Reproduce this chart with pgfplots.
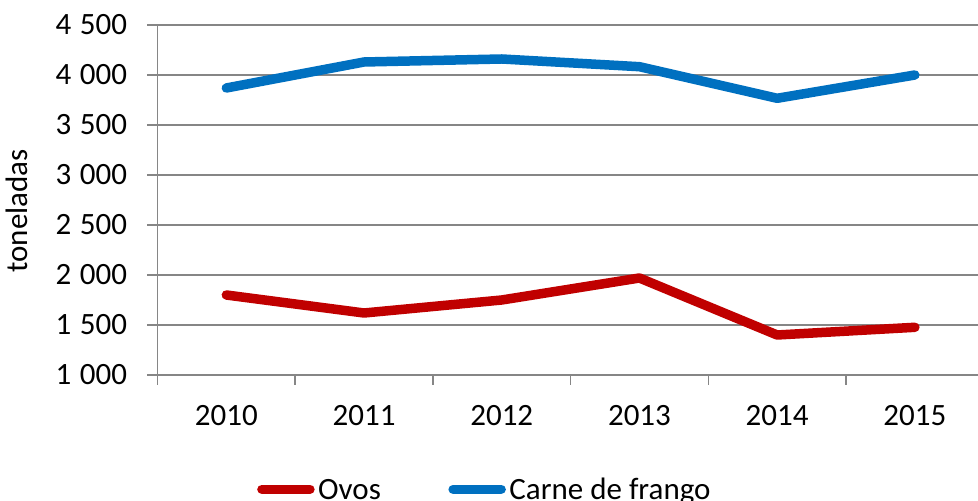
\documentclass[border=0pt]{standalone}
\usepackage{fontspec}
\setmainfont{Carlito}
\usepackage{pgfplots}
\pgfplotsset{compat=1.18}
\definecolor{ovos}{HTML}{C00000}
\definecolor{frango}{HTML}{0070C0}
\definecolor{gridc}{HTML}{868686}
\newcommand\fs{\fontsize{15.5}{18.6}\selectfont}
\begin{document}
\begin{tikzpicture}
\useasboundingbox (-78.75pt,-63pt) rectangle (410.25pt,187.5pt);
\clip (-78.75pt,-63pt) rectangle (410.25pt,187.5pt);
\begin{axis}[
  at={(0pt,0pt)}, anchor=south west,
  scale only axis, width=410.25pt, height=175pt,
  xmin=-0.5, xmax=5.4586, ymin=1000, ymax=4500,
  axis x line*=bottom, axis y line*=left,
  axis line style={draw=gridc, line width=0.75pt},
  xtick={0,1,2,3,4,5},
  xticklabels={2010,2011,2012,2013,2014,2015},
  minor xtick={-0.5,0.5,1.5,2.5,3.5,4.5},
  ytick={1000,1500,2000,2500,3000,3500,4000,4500},
  yticklabels={1\hspace{0.28em}000,1\hspace{0.28em}500,2\hspace{0.28em}000,2\hspace{0.28em}500,3\hspace{0.28em}000,3\hspace{0.28em}500,4\hspace{0.28em}000,4\hspace{0.28em}500},
  tick align=outside,
  major tick length=5pt, minor tick length=5pt,
  major x tick style={draw=none},
  minor x tick style={draw=gridc, line width=0.75pt},
  ytick style={draw=gridc, line width=0.75pt},
  ymajorgrids,
  major grid style={draw=gridc, line width=0.75pt},
  tick label style={font=\fs},
  yticklabel style={anchor=east, inner sep=0pt, xshift=-10pt},
  xticklabel style={anchor=base, inner sep=0pt, yshift=-20.5pt},
  ylabel={toneladas},
  ylabel style={at={(axis description cs:-0.159,0.4686)}, anchor=base, inner sep=0pt, font=\fs},
  legend columns=2,
  legend image code/.code={\draw[#1, line cap=round] (0pt,5pt) -- (24pt,5pt);},
  legend style={at={(axis description cs:0.121,-0.3286)}, anchor=west, draw=none, fill=none,
    inner sep=0pt, column sep=0pt,
    nodes={inner sep=0pt, anchor=base, font=\fs},
    /tikz/every odd column/.append style={column sep=1.75pt},
    /tikz/every even column/.append style={column sep=33.75pt}},
]
\addplot[ovos, line width=4.75pt, line cap=round, line join=round]
  coordinates {(0,1800)(1,1620)(2,1750)(3,1970)(4,1400)(5,1477)};
\addlegendentry{Ovos}
\addplot[frango, line width=4.75pt, line cap=round, line join=round]
  coordinates {(0,3870)(1,4130)(2,4160)(3,4083)(4,3767)(5,4000)};
\addlegendentry{Carne de frango}
\end{axis}
\end{tikzpicture}
\end{document}
